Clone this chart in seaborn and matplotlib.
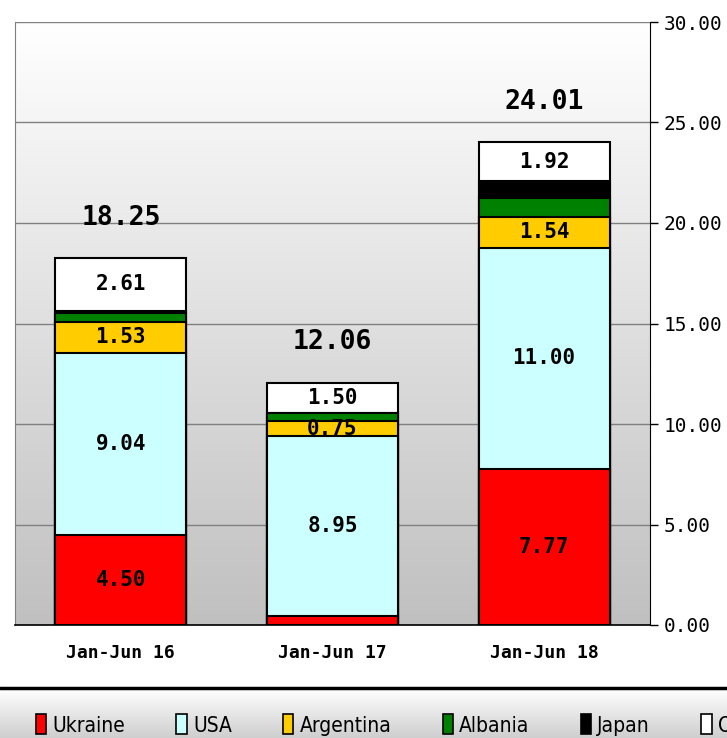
import numpy as np
import pandas as pd
import matplotlib
matplotlib.use("Agg")
import matplotlib.pyplot as plt
from matplotlib.colors import LinearSegmentedColormap
from matplotlib.patches import Patch
from matplotlib.lines import Line2D
import seaborn as sns

periods = ["Jan-Jun 16", "Jan-Jun 17", "Jan-Jun 18"]
series = ["Ukraine", "USA", "Argentina", "Albania", "Japan", "Other"]
ukraine = [4.50, 0.45, 7.77]
usa = [9.04, 8.95, 11.00]
argentina = [1.53, 0.75, 1.54]
albania = [0.47, 0.41, 0.95]
japan = [0.10, 0.00, 0.83]
other = [2.61, 1.50, 1.92]
totals = [18.25, 12.06, 24.01]
colors = ["#ff0000", "#ccffff", "#ffcc00", "#008000", "#000000", "#ffffff"]
# which segments get a value label
show_label = {"Ukraine": [True, False, True], "USA": [True, True, True],
              "Argentina": [True, True, True], "Albania": [False, False, False],
              "Japan": [False, False, False], "Other": [True, True, True]}

values = [ukraine, usa, argentina, albania, japan, other]
df = pd.DataFrame(values, index=series, columns=periods).T
cum = df.cumsum(axis=1)

sns.set_style("white")
plt.rcParams["text.color"] = "black"
plt.rcParams["xtick.color"] = "black"
plt.rcParams["ytick.color"] = "black"
mono = ["DejaVu Sans Mono"]

fig = plt.figure(figsize=(7.27, 7.38), dpi=100)
ax = fig.add_axes([15 / 727, 113 / 738, 635 / 727, 603 / 738])

# gradient plot background
grad = LinearSegmentedColormap.from_list("bg", ["#c0c0c0", "#ffffff"])
ax.imshow(np.linspace(0, 1, 256).reshape(-1, 1), cmap=grad, origin="lower",
          extent=(-0.5, 2.5, 0, 30), aspect="auto", zorder=0)

# stacked bars: draw cumulative totals from the top series down
for name, col in reversed(list(zip(series, colors))):
    sns.barplot(x=periods, y=cum[name].values, color=col, width=0.62,
                edgecolor="black", linewidth=1.5, saturation=1, ax=ax, zorder=3)

# segment labels
for name in series:
    for i, p in enumerate(periods):
        if show_label[name][i]:
            mid = cum.loc[p, name] - df.loc[p, name] / 2
            ax.text(i, mid, f"{df.loc[p, name]:.2f}", ha="center", va="center",
                    fontsize=15, fontweight="bold", family=mono, color="black", zorder=5)

for i, t in enumerate(totals):
    ax.text(i, t + 2.0, f"{t:.2f}", ha="center", va="center",
            fontsize=19, fontweight="bold", family=mono, color="black", zorder=5)

ax.set_xlim(-0.5, 2.5)
ax.set_ylim(0, 30)
ax.set_yticks(np.arange(0, 31, 5))
ax.set_yticklabels([f"{v:.2f}" for v in np.arange(0, 31, 5)], family=mono, fontsize=14)
ax.yaxis.tick_right()
ax.tick_params(axis="y", direction="out", length=6, width=1, color="black", pad=4)
ax.yaxis.grid(True, color="#808080", linewidth=1)
ax.set_axisbelow(True)

ax.set_xticks([-0.5, 0.5, 1.5, 2.5])
ax.set_xticklabels([])
ax.set_xticks([0, 1, 2], minor=True)
ax.set_xticklabels(periods, minor=True, family=mono, fontsize=13, fontweight="bold")
ax.tick_params(axis="x", which="major", direction="out", length=7, width=1, color="black")
ax.tick_params(axis="x", which="minor", length=0, pad=14)
ax.set_xlabel("")
ax.set_ylabel("")

ax.spines["top"].set_visible(False)
ax.spines["left"].set_color("#808080")
ax.spines["right"].set_color("black")
ax.spines["bottom"].set_color("black")
ax.spines["bottom"].set_linewidth(1.2)

# legend strip
lax = fig.add_axes([0, 0, 1, 50 / 738])
lgrad = LinearSegmentedColormap.from_list("lg", ["#cfcfcf", "#ffffff"])
lax.imshow(np.linspace(0, 1, 64).reshape(-1, 1), cmap=lgrad, origin="lower",
           extent=(0, 1, 0, 1), aspect="auto")
lax.axis("off")
fig.add_artist(Line2D([0, 1], [50 / 738, 50 / 738], color="black", linewidth=2.5))

handles = [Patch(facecolor=c, edgecolor="black", linewidth=1.2) for c in colors]
fig.legend(handles, series, loc="center left", bbox_to_anchor=(36 / 727, 13 / 738),
           ncol=6, frameon=False, handlelength=0.5, handleheight=1.1,
           handletextpad=0.3, columnspacing=2.45, borderaxespad=0, borderpad=0,
           prop={"family": "DejaVu Sans", "stretch": "condensed", "size": 15})

fig.savefig("out.png", dpi=100)
